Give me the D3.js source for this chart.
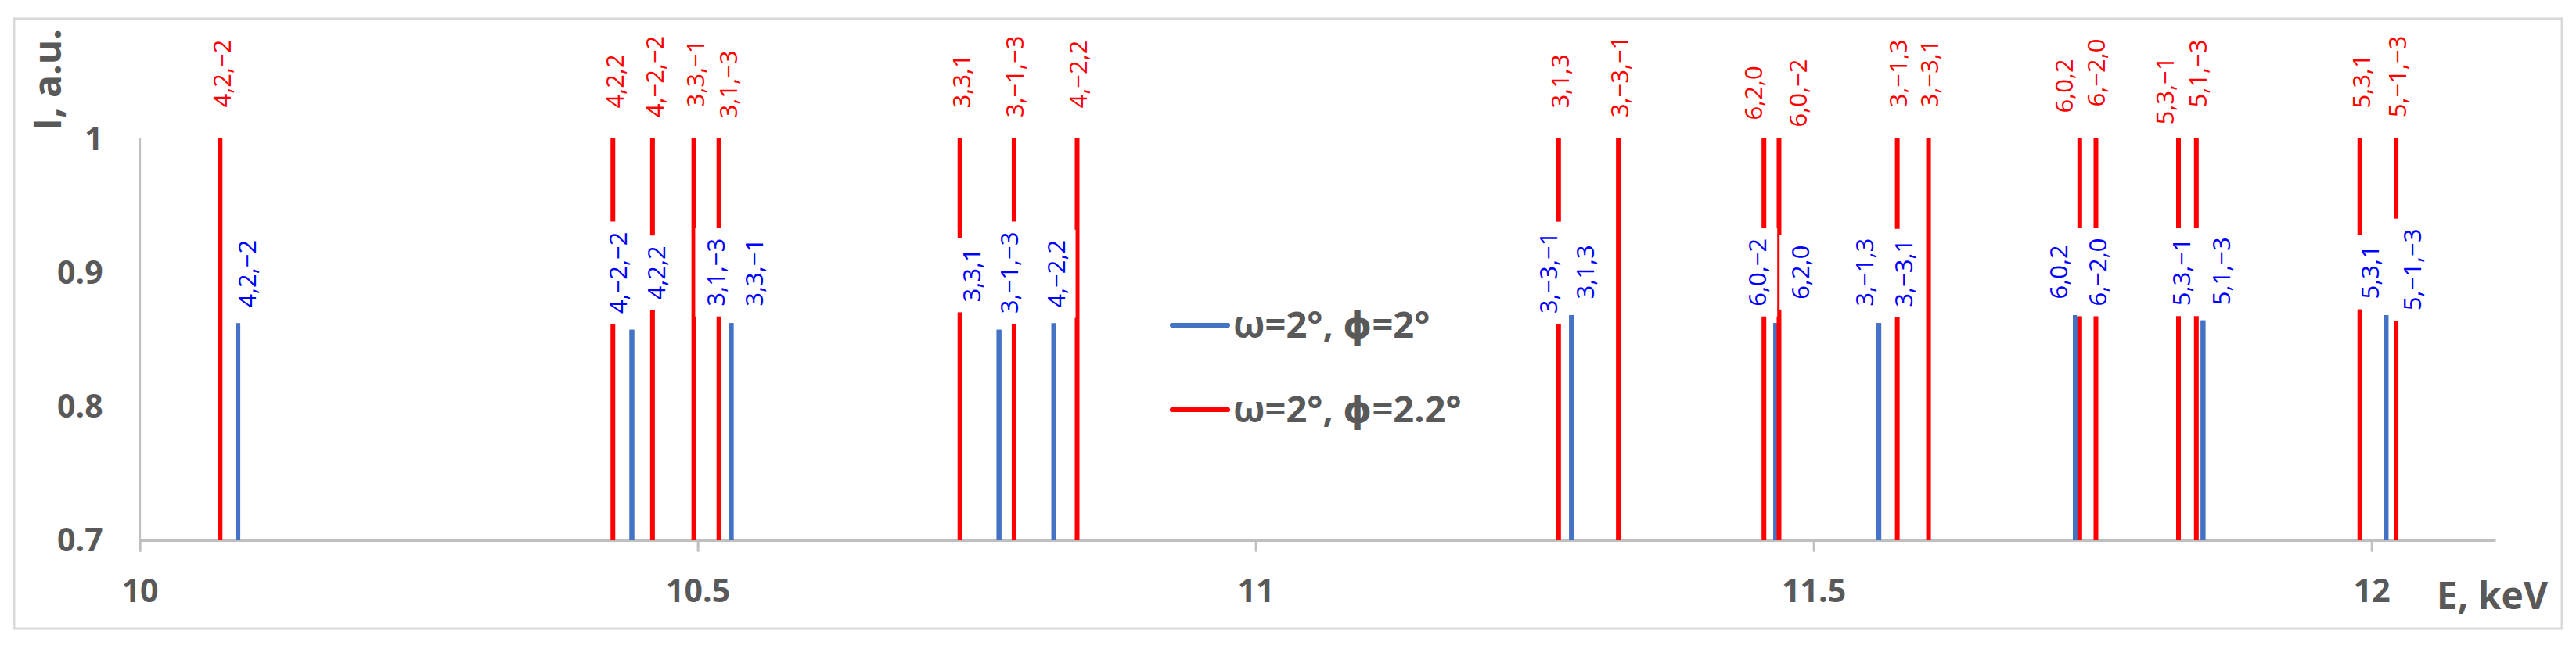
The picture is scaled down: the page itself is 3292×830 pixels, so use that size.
<!DOCTYPE html>
<html>
<head>
<meta charset="utf-8">
<script src="https://cdn.jsdelivr.net/npm/d3@7"></script>
<style>
  html, body { margin: 0; padding: 0; background: #fff; }
  svg { display: block; font-family: 'Open Sans', 'DejaVu Sans', sans-serif; }
</style>
</head>
<body>
<svg id="chart" width="3292" height="830"></svg>
<script>
// series 1 : omega=2, phi=2 (blue)
const blueLabels = ['4,2,−2', '4,−2,−2', '4,2,2', '3,1,−3', '3,3,−1', '3,3,1', '3,−1,−3', '4,−2,2',
  '3,−3,−1', '3,1,3', '6,0,−2', '6,2,0', '3,−1,3', '3,−3,1', '6,0,2', '6,−2,0',
  '5,3,−1', '5,1,−3', '5,3,1', '5,−1,−3'];
const blueEnergy = [10.088, 10.441, 10.441, 10.530, 10.530, 10.770, 10.770, 10.819,
  11.283, 11.283, 11.466, 11.466, 11.5585, 11.5585, 11.7345, 11.7345,
  11.849, 11.849, 12.013, 12.013];
const blueIntensity = [0.862, 0.857, 0.857, 0.862, 0.862, 0.857, 0.857, 0.862,
  0.868, 0.868, 0.862, 0.862, 0.862, 0.862, 0.868, 0.868,
  0.864, 0.864, 0.868, 0.868];

// series 2 : omega=2, phi=2.2 (red)
const redLabels = ['4,2,−2', '4,2,2', '4,−2,−2', '3,3,−1', '3,1,−3', '3,3,1', '3,−1,−3', '4,−2,2',
  '3,1,3', '3,−3,−1', '6,2,0', '6,0,−2', '3,−1,3', '3,−3,1', '6,0,2', '6,−2,0',
  '5,3,−1', '5,1,−3', '5,3,1', '5,−1,−3'];
const redEnergy = [10.072, 10.424, 10.4595, 10.4965, 10.519, 10.735, 10.7835, 10.840,
  11.2715, 11.325, 11.4555, 11.469, 11.575, 11.603, 11.7385, 11.753,
  11.827, 11.843, 11.9895, 12.022];
const redIntensity = [1, 1, 1, 1, 1, 1, 1, 1, 1, 1, 1, 1, 1, 1, 1, 1, 1, 1, 1, 1];

const seriesNames = ['ω=2°, ϕ=2°', 'ω=2°, ϕ=2.2°'];
const xTicks = [10, 10.5, 11, 11.5, 12];
const yTicks = [0.7, 0.8, 0.9, 1];

// hand placement of the data labels (px nudges from the top of each line)
const blueLabelDx = [11, -18, 31, -20, 29, -36, 12, 2, -30, 17, -24, 31, -19, 31, -22, 28, -28, 23, -21, 33];
const blueLabelDy = [-63, -73, -73, -65, -65, -70, -73, -63, -54, -55, -65, -65, -65, -64, -55, -55, -62, -63, -55, -58];
const redLabelDx = [2, 2, 2, 1, 11, 1, 0, 1, 1, 1, -14, 24, 0, 0, -21, 0, -18, 1, 1, 1];
const redLabelDy = [-83, -73, -79, -83, -69, -73, -79, -82, -73, -79, -58, -58, -83, -83, -67, -84, -61, -83, -73, -79];

const blue = blueLabels.map((l, i) => ({ label: l, e: blueEnergy[i], v: blueIntensity[i], dx: blueLabelDx[i], dy: blueLabelDy[i] }));
const red = redLabels.map((l, i) => ({ label: l, e: redEnergy[i], v: redIntensity[i], dx: redLabelDx[i], dy: redLabelDy[i] }));

const BLUE = '#4472C4', RED = '#FF0000', GREY = '#595959', AXIS = '#BFBFBF';
const svg = d3.select('#chart');

// chart area border
svg.append('rect')
  .attr('x', 18).attr('y', 24).attr('width', 3256).attr('height', 780)
  .attr('fill', '#fff').attr('stroke', '#D9D9D9').attr('stroke-width', 3);

const x = d3.scaleLinear().domain([10, 12.111]).range([178.6, 3189]);
const y = d3.scaleLinear().domain([0.7, 1]).range([690.6, 177]);
const tickLen = 15;

// x axis
const xAxisG = svg.append('g')
  .attr('transform', `translate(0,${y(0.7)})`)
  .call(d3.axisBottom(x).tickValues(xTicks).tickSize(tickLen).tickSizeOuter(0).tickFormat(d => d));
xAxisG.select('.domain').attr('stroke', AXIS).attr('stroke-width', 4);
xAxisG.selectAll('.tick line').attr('stroke', AXIS).attr('stroke-width', 3);
xAxisG.selectAll('.tick text')
  .attr('y', 65).attr('dy', '0.35em')
  .attr('fill', GREY).attr('font-size', 41).attr('font-weight', 'bold')
  .attr('font-family', "'Open Sans', sans-serif");

// y axis
const yAxisG = svg.append('g')
  .attr('transform', `translate(${x(10)},0)`)
  .call(d3.axisLeft(y).tickValues(yTicks).tickSize(0).tickPadding(47).tickFormat(d => d));
yAxisG.select('.domain').remove();
yAxisG.selectAll('.tick text')
  .attr('dy', '0.35em')
  .attr('fill', GREY).attr('font-size', 41).attr('font-weight', 'bold')
  .attr('font-family', "'Open Sans', sans-serif");
yAxisG.append('line')
  .attr('x1', 0).attr('x2', 0)
  .attr('y1', y(1)).attr('y2', y(0.7) + tickLen)
  .attr('stroke', AXIS).attr('stroke-width', 3);

// stems
svg.append('g').selectAll('line')
  .data(blue).join('line')
  .attr('x1', d => x(d.e)).attr('x2', d => x(d.e))
  .attr('y1', y(0.7)).attr('y2', d => y(d.v))
  .attr('stroke', BLUE).attr('stroke-width', 6);

svg.append('g').selectAll('line')
  .data(red).join('line')
  .attr('x1', d => x(d.e)).attr('x2', d => x(d.e))
  .attr('y1', y(0.7)).attr('y2', d => y(d.v))
  .attr('stroke', RED).attr('stroke-width', 6);

// rotated data labels on a white box
function drawLabels(data, color) {
  const lg = svg.append('g').selectAll('g')
    .data(data).join('g')
    .attr('transform', d => `translate(${x(d.e) + d.dx},${y(d.v) + d.dy}) rotate(-90)`);
  lg.append('text')
    .attr('text-anchor', 'middle')
    .attr('dominant-baseline', 'central')
    .attr('font-size', 31)
    .attr('fill', color)
    .text(d => d.label);
  lg.each(function() {
    const g = d3.select(this);
    const len = g.select('text').node().getComputedTextLength();
    g.insert('rect', 'text')
      .attr('x', -len / 2 - 13).attr('y', -26)
      .attr('width', len + 26).attr('height', 52)
      .attr('fill', '#fff');
  });
}
drawLabels(red, RED);
drawLabels(blue, '#0000FF');

// legend
const legend = svg.append('g');
[BLUE, RED].forEach((c, i) => {
  const ly = 416 + i * 108;
  legend.append('line')
    .attr('x1', 1498).attr('x2', 1569).attr('y1', ly).attr('y2', ly)
    .attr('stroke', c).attr('stroke-width', 6).attr('stroke-linecap', 'round');
  legend.append('text')
    .attr('x', 1576).attr('y', ly).attr('dy', '0.35em')
    .attr('font-size', 47).attr('font-weight', 'bold').attr('fill', GREY)
    .text(seriesNames[i]);
});

// axis titles
svg.append('text')
  .attr('x', 3185).attr('y', 762).attr('dy', '0.35em')
  .attr('text-anchor', 'middle')
  .attr('font-size', 48).attr('font-weight', 'bold').attr('fill', GREY)
  .text('E, keV');

svg.append('text')
  .attr('transform', 'translate(61,102) rotate(-90)')
  .attr('text-anchor', 'middle').attr('dy', '0.35em')
  .attr('font-size', 48).attr('font-weight', 'bold').attr('fill', GREY)
  .text('I, a.u.');
</script>
</body>
</html>
